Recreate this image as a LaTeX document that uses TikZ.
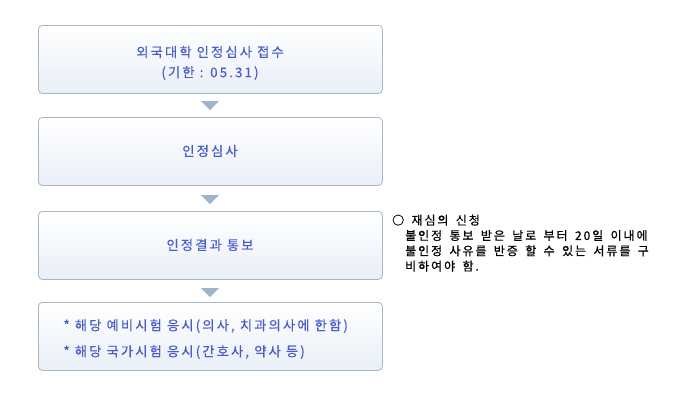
\documentclass[tikz,border=0pt]{standalone}
\usepackage{fontspec}
\newfontfamily\kr[LetterSpace=16,FakeBold=0.4]{Noto Sans CJK KR}
\newfontfamily\krn[LetterSpace=16,WordSpace=1.6,FakeBold=0.8]{Noto Sans CJK KR}
\usetikzlibrary{shapes.geometric,calc}
\definecolor{boxline}{HTML}{A7B6C6}
\definecolor{boxtop}{HTML}{FFFFFF}
\definecolor{boxbot}{HTML}{E9EFF7}
\definecolor{txtblue}{HTML}{4A5CCC}
\definecolor{arrowc}{HTML}{9FB3C9}
\begin{document}
\begin{tikzpicture}[x=1pt,y=-1pt,
  stepbox/.style={draw=boxline,line width=0.8pt,rounded corners=4pt,top color=boxtop,bottom color=boxbot,minimum width=344pt,minimum height=68pt,anchor=north west,inner sep=0pt},
  btxt/.style={font=\kr\fontsize{13.3}{15}\selectfont,text=txtblue},
  note/.style={font=\krn\fontsize{12}{15.3}\selectfont,text=black,anchor=north west,align=left,inner sep=0pt}]
\useasboundingbox (0,0) rectangle (684,405);
\node[stepbox] (b1) at (38,25) {};
\node[stepbox] (b2) at (38,117) {};
\node[stepbox] (b3) at (38,211) {};
\node[stepbox] (b4) at (38,302) {};
\node[btxt] (t1a) at (210,52) {외국대학 인정심사 접수};
\node[btxt] (t1b) at (210,73) {(기한 : 05.31)};
\node[btxt] (t2) at (210,151) {인정심사};
\node[btxt] (t3) at (210,245) {인정결과 통보};
\node[btxt,anchor=west] (t4a) at (60,326) {* 해당 예비시험 응시(의사, 치과의사에 한함)};
\node[btxt,anchor=west] (t4b) at (60,352) {* 해당 국가시험 응시(간호사, 약사 등)};
\coordinate (a1) at (210,101);
\coordinate (a2) at (210,195);
\coordinate (a3) at (210,288);
\foreach \c in {a1,a2,a3} {
  \fill[arrowc] ($(\c)+(-9,0)$) -- ($(\c)+(9,0)$) -- ($(\c)+(0,9)$) -- cycle;
}
\node[note] (n) at (392,214.5) {○ 재심의 신청\\
\hspace*{13pt}불인정 통보 받은 날로 부터 20일 이내에\\
\hspace*{13pt}불인정 사유를 반증 할 수 있는 서류를 구\\
\hspace*{13pt}비하여야 함.};
\end{tikzpicture}
\end{document}
